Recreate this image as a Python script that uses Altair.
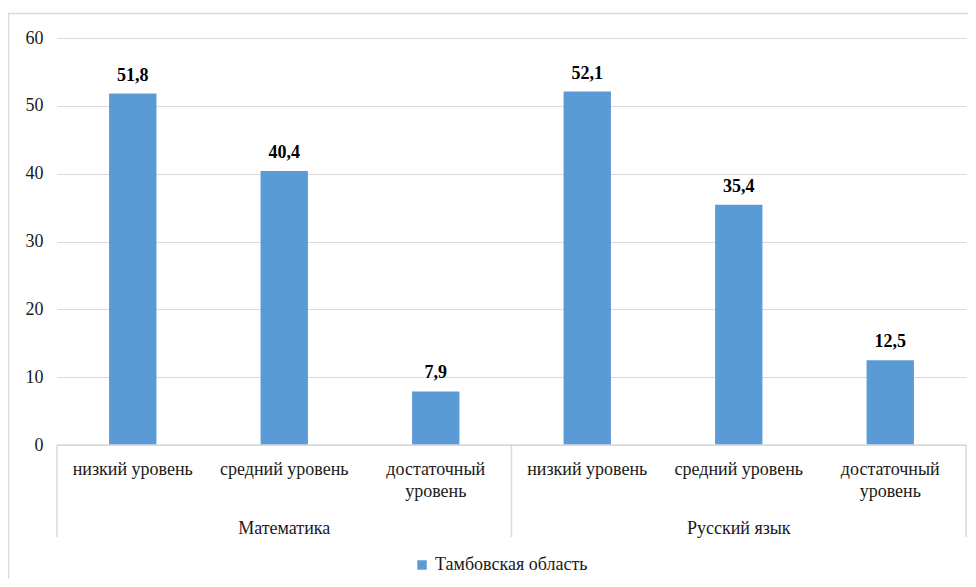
import altair as alt
import pandas as pd

subjects = ["Математика", "Русский язык"]
levels = ["низкий уровень", "средний уровень", "достаточный уровень"]
level_labels = ["низкий уровень", "средний уровень", "достаточный\nуровень"]
values = [51.8, 40.4, 7.9, 52.1, 35.4, 12.5]
series_name = "Тамбовская область"
y_ticks = [0, 10, 20, 30, 40, 50, 60]

rows = []
i = 0
for s in subjects:
    for lv, lab in zip(levels, level_labels):
        rows.append({"key": f"{s}|{lv}", "subject": s, "level": lab,
                     "value": values[i], "series": series_name})
        i += 1
df = pd.DataFrame(rows)
order = list(df["key"])
groups = pd.DataFrame({"subject": subjects,
                       "key": [f"{s}|{levels[1]}" for s in subjects]})

W, H = 909, 407
FONT = "Times New Roman"
BLUE = "#5B9BD5"
GRID = "#d9d9d9"

xscale = alt.Scale(domain=order, paddingInner=0.6875, paddingOuter=0.34375)
X = alt.X("key:N", scale=xscale, axis=None, sort=order)

bars = alt.Chart(df).mark_bar(color=BLUE).encode(
    x=X,
    y=alt.Y("value:Q", scale=alt.Scale(domain=[0, 60], nice=False),
            axis=alt.Axis(values=y_ticks, title=None, domain=False, ticks=False,
                          grid=True, gridColor=GRID, gridWidth=1,
                          labelFont=FONT, labelFontSize=18, labelColor="#1a1a1a",
                          labelPadding=14)),
    color=alt.Color("series:N", scale=alt.Scale(range=[BLUE]),
                    legend=alt.Legend(title=None, orient="none", legendX=356, legendY=518,
                                      symbolType="square", symbolSize=90,
                                      symbolStrokeWidth=0, labelFont=FONT,
                                      labelFontSize=18, labelColor="#1a1a1a",
                                      labelOffset=4)),
)

labels = alt.Chart(df).transform_calculate(
    lbl="replace(format(datum.value, '.1f'), '.', ',')"
).mark_text(font=FONT, fontSize=18, fontWeight="bold", baseline="alphabetic",
            dy=-13, color="#000000").encode(
    x=X, y=alt.Y("value:Q"), text="lbl:N")

level_text = alt.Chart(df).mark_text(font=FONT, fontSize=18, baseline="alphabetic",
                                     lineBreak="\n", lineHeight=22,
                                     color="#1a1a1a").encode(
    x=X, y=alt.value(H + 30), text="level:N")

group_text = alt.Chart(groups).mark_text(font=FONT, fontSize=18, baseline="alphabetic",
                                         color="#1a1a1a").encode(
    x=alt.X("key:N", scale=xscale, axis=None, sort=order),
    y=alt.value(H + 89), text="subject:N")

one = pd.DataFrame({"a": [0]})
baseline = alt.Chart(one).mark_rule(color=GRID, strokeWidth=1.5).encode(
    x=alt.value(0), x2=alt.value(W), y=alt.value(H))
seps = alt.Chart(pd.DataFrame({"p": [0, W / 2, W]})).mark_rule(
    color=GRID, strokeWidth=1.5).encode(
    x=alt.X("p:Q", scale=alt.Scale(domain=[0, W], range=[0, W]), axis=None),
    y=alt.value(H), y2=alt.value(H + 92))
frame = alt.Chart(one).mark_rect(filled=False, stroke=GRID, strokeWidth=1.5).encode(
    x=alt.value(-48.5), x2=alt.value(W + 40), y=alt.value(-24.5), y2=alt.value(H + 200))

chart = alt.layer(frame, bars, labels, level_text, group_text, baseline, seps).resolve_scale(
    x="independent"
).properties(
    width=W, height=H,
    autosize=alt.AutoSizeParams(type="none"),
    padding={"left": 49, "top": 30, "right": 2, "bottom": 134},
).configure(
    background="white", font=FONT, view=alt.ViewConfig(stroke=None)
)

chart.save("out.html", embed_options={"renderer": "svg", "actions": False})
